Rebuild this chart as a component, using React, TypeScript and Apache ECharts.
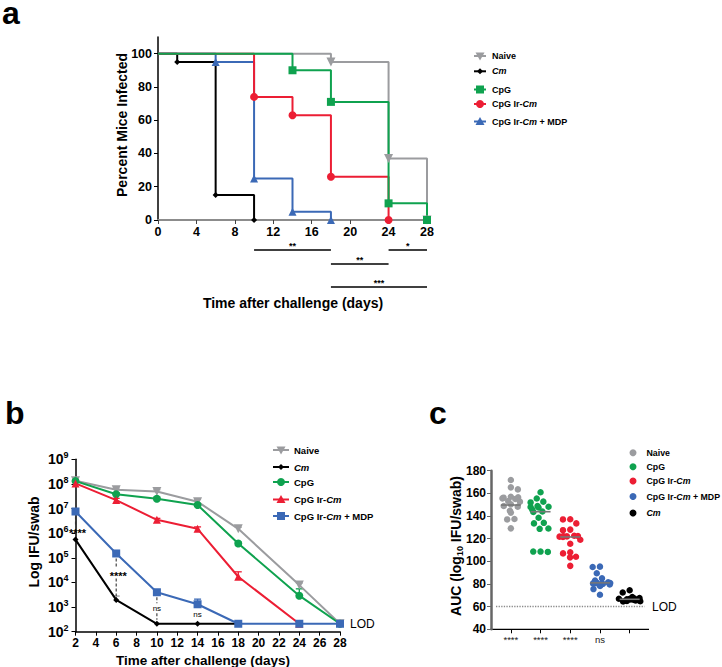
import React, { useEffect, useRef } from 'react';
import * as echarts from 'echarts';

const FONT = '"Liberation Sans", Arial, Helvetica, sans-serif';

const GREY = '#9b9c9f';
const BLACK = '#000000';
const GREEN = '#0fa24f';
const RED = '#ec1e34';
const BLUE = '#3b69b6';

// ---------- Panel a: percent mice infected ----------
const aNaiveDays = [0, 18, 24, 28];
const aNaivePct = [100, 95, 37, 0];
const aCmDays = [0, 2, 6, 10];
const aCmPct = [100, 95, 15, 0];
const aMdpDays = [0, 6, 10, 14, 18];
const aMdpPct = [100, 95, 25, 5, 0];
const aIrDays = [0, 10, 14, 18, 24];
const aIrPct = [100, 74, 63, 26, 0];
const aCpgDays = [0, 14, 18, 24, 28];
const aCpgPct = [100, 90, 71, 10, 0];
const aYTicks = [0, 20, 40, 60, 80, 100];
const aSigFrom = [10, 24, 18, 18];
const aSigTo = [18, 28, 24, 28];
const aSigRow = [0, 0, 1, 2];
const aSigLabel = ['**', '*', '**', '***'];
const aLegendNames = ['Naive', 'Cm', 'CpG', 'CpG Ir-Cm', 'CpG Ir-Cm + MDP'];

// ---------- Panel b: log IFU/swab ----------
const bDays = [2, 6, 10, 14, 18, 24, 28];
const bNaive = [1.35e8, 5.8e7, 4.9e7, 1.9e7, 1.5e6, 7.8e3, 210];
const bNaiveUp = [1.55e8, 6.8e7, 5.8e7, 2.4e7, 1.75e6, 9.5e3, null];
const bCpg = [1.3e8, 3.8e7, 2.5e7, 1.4e7, 3.8e5, 2.9e3, 210];
const bCpgUp = [1.5e8, 4.3e7, 2.9e7, 1.6e7, 4.3e5, 5.5e3, null];
const bIrDays = [2, 6, 10, 14, 18, 24];
const bIr = [1.05e8, 2.2e7, 3.5e6, 1.5e6, 1.7e4, 210];
const bIrUp = [1.2e8, 2.6e7, 4.0e6, 1.8e6, 2.7e4, null];
const bCmDays = [2, 6, 10, 14, 18];
const bCm = [5.5e5, 1.95e3, 210, 210, 210];
const bCmUp = [null, 2.8e3, null, null, null];
const bMdp = [7.6e6, 1.5e5, 4.0e3, 1.3e3, 210, 210, 210];
const bMdpUp = [null, 1.8e5, 5.0e3, 2.1e3, null, null, null];
const bSigDays = [2, 6, 10, 14];
const bSigTop = [7.6e6, 1.5e5, 4.0e3, 1.3e3];
const bSigBottom = [5.5e5, 1.95e3, 210, 210];
const bSigTextAt = [1.3e6, 2.3e4, 900, 510];
const bSigLine = [1, 1, 1, 0];
const bSigLabel = ['****', '****', 'ns', 'ns'];
const bLegendNames = ['Naive', 'Cm', 'CpG', 'CpG Ir-Cm', 'CpG Ir-Cm + MDP'];

// ---------- Panel c: AUC ----------
const cGroups = ['Naive', 'CpG', 'CpG Ir-Cm', 'CpG Ir-Cm + MDP', 'Cm'];
const cNaive = [171.8, 165.3, 163.5, 157, 156.5, 156.2, 155.6, 155, 153.2, 152.7, 150.3, 148.8, 148.2, 144.7, 143, 137.4, 137, 129.1];
const cCpg = [161, 155.5, 152.7, 152, 148.8, 148.2, 148, 147.5, 145.8, 144, 143.5, 138.5, 134, 133.5, 129, 128.7, 108.6, 108.6, 108.3];
const cIr = [137.1, 137, 133.5, 128, 127.5, 122.6, 122.4, 122.2, 122, 121.8, 121.5, 119, 115.5, 108, 107, 104, 103.5, 96];
const cMdp = [95.3, 95, 89.5, 85, 83, 81.5, 81, 80.8, 80.6, 80.5, 80.4, 80, 79.5, 78.3, 75.5, 70.5];
const cCm = [74.5, 72.5, 68.5, 67.5, 67.2, 67, 66.8, 66.5, 66.3, 66, 65.8, 65.5, 65.2, 65, 64.8, 64.5];
const cMeans = [149.7, 143.8, 121.5, 81, 66.5];
const cSig = ['****', '****', '****', 'ns', ''];
const cLOD = 60;

type Shape = 'triDown' | 'triUp' | 'diamond' | 'square' | 'circle';

function marker(shape: Shape, cx: number, cy: number, s: number, color: string): any {
  const h = s / 2;
  const style = { fill: color };
  switch (shape) {
    case 'circle':
      return { type: 'circle', shape: { cx, cy, r: h }, style };
    case 'square':
      return { type: 'rect', shape: { x: cx - h, y: cy - h, width: s, height: s }, style };
    case 'diamond':
      return { type: 'polygon', shape: { points: [[cx, cy - h], [cx + h, cy], [cx, cy + h], [cx - h, cy]] }, style };
    case 'triUp':
      return { type: 'polygon', shape: { points: [[cx, cy - h], [cx + h, cy + h * 0.8], [cx - h, cy + h * 0.8]] }, style };
    default:
      return { type: 'polygon', shape: { points: [[cx - h, cy - h * 0.8], [cx + h, cy - h * 0.8], [cx, cy + h]] }, style };
  }
}

function rich(name: string) {
  return name
    .split(/(Cm)/)
    .filter((p) => p !== '')
    .map((p) => (p === 'Cm' ? '{i|Cm}' : `{b|${p}}`))
    .join('');
}

function richStyles(fs: number, weight = 'bold') {
  return {
    b: { fontFamily: FONT, fontSize: fs, fontWeight: weight, fill: '#000', color: '#000' },
    i: { fontFamily: FONT, fontSize: fs, fontWeight: weight, fontStyle: 'italic', fill: '#000', color: '#000' },
  };
}

function legendBlock(names: string[], colors: string[], shapes: Shape[], sizes: number[], ys: number[], symX: number, textX: number, lineHalf: number, fs: number) {
  const els: any[] = [];
  names.forEach((n, i) => {
    if (lineHalf > 0) {
      els.push({ type: 'line', shape: { x1: symX - lineHalf, y1: ys[i], x2: symX + lineHalf, y2: ys[i] }, style: { stroke: colors[i], lineWidth: 2 } });
    }
    els.push(marker(shapes[i], symX, ys[i], sizes[i], colors[i]));
    els.push({
      type: 'text',
      x: textX,
      y: ys[i],
      style: { text: rich(n), rich: richStyles(fs), align: 'left', verticalAlign: 'middle', textAlign: 'left', textVerticalAlign: 'middle' },
    });
  });
  return els;
}

function txt(text: string, x: number, y: number, fs: number, opts: any = {}) {
  return {
    type: 'text',
    x,
    y,
    rotation: opts.rotation || 0,
    style: {
      text,
      fontFamily: FONT,
      fontSize: fs,
      fontWeight: opts.weight || 'bold',
      fill: '#000',
      align: opts.align || 'center',
      verticalAlign: 'middle',
      textAlign: opts.align || 'center',
      textVerticalAlign: 'middle',
      rich: opts.rich,
    },
  };
}

function stepSeries(name: string, days: number[], pct: number[], color: string, symbol: string, size: number, rotate = 0) {
  return {
    type: 'line',
    name,
    xAxisIndex: 0,
    yAxisIndex: 0,
    step: 'end',
    data: days.map((d, i) => (i === 0 ? { value: [d, pct[i]], symbol: 'none' } : [d, pct[i]])),
    symbol,
    symbolSize: size,
    symbolRotate: rotate,
    showSymbol: true,
    lineStyle: { color, width: 2 },
    itemStyle: { color },
  };
}

function lineSeries(name: string, days: number[], vals: number[], color: string, symbol: string, size: number, rotate = 0) {
  return {
    type: 'line',
    name,
    xAxisIndex: 1,
    yAxisIndex: 1,
    data: days.map((d, i) => [d, vals[i]]),
    symbol,
    symbolSize: size,
    symbolRotate: rotate,
    showSymbol: true,
    lineStyle: { color, width: 2 },
    itemStyle: { color },
    z: 3,
  };
}

function errSeries(days: number[], vals: number[], ups: (number | null)[], color: string) {
  const data: number[][] = [];
  days.forEach((d, i) => {
    const u = ups[i];
    if (u != null) data.push([d, vals[i], u]);
  });
  return {
    type: 'custom',
    xAxisIndex: 1,
    yAxisIndex: 1,
    silent: true,
    z: 2,
    data,
    renderItem: (_p: any, api: any) => {
      const p1 = api.coord([api.value(0), api.value(1)]);
      const p2 = api.coord([api.value(0), api.value(2)]);
      return {
        type: 'group',
        children: [
          { type: 'line', shape: { x1: p1[0], y1: p1[1], x2: p2[0], y2: p2[1] }, style: { stroke: color, lineWidth: 1.3 } },
          { type: 'line', shape: { x1: p2[0] - 3.5, y1: p2[1], x2: p2[0] + 3.5, y2: p2[1] }, style: { stroke: color, lineWidth: 1.3 } },
        ],
      };
    },
  };
}

const axisText = (fs: number) => ({ fontFamily: FONT, fontSize: fs, fontWeight: 'bold', color: '#000' });

function buildOption() {
  const series: any[] = [
    // Panel a
    stepSeries('Naive', aNaiveDays, aNaivePct, GREY, 'triangle', 9, 180),
    stepSeries('Cm', aCmDays, aCmPct, BLACK, 'diamond', 6),
    stepSeries('CpG Ir-Cm + MDP', aMdpDays, aMdpPct, BLUE, 'triangle', 8),
    stepSeries('CpG Ir-Cm', aIrDays, aIrPct, RED, 'circle', 8),
    stepSeries('CpG', aCpgDays, aCpgPct, GREEN, 'rect', 8),
    {
      type: 'custom',
      xAxisIndex: 0,
      yAxisIndex: 0,
      silent: true,
      clip: false,
      data: aSigFrom.map((f, i) => [f, aSigTo[i], aSigRow[i]]),
      renderItem: (params: any, api: any) => {
        const i = params.dataIndex;
        const x1 = api.coord([api.value(0), 0])[0];
        const x2 = api.coord([api.value(1), 0])[0];
        const base = api.coord([0, 0])[1];
        const y = base + [30, 44, 67][api.value(2)];
        return {
          type: 'group',
          children: [
            { type: 'line', shape: { x1, y1: y, x2, y2: y }, style: { stroke: '#000', lineWidth: 1.5 } },
            {
              type: 'text',
              style: { text: aSigLabel[i], x: (x1 + x2) / 2, y: y + 0.5, align: 'center', verticalAlign: 'bottom', fontSize: 9, fontWeight: 'bold', fill: '#000', fontFamily: FONT },
            },
          ],
        };
      },
    },
    // Panel b error bars
    errSeries(bDays, bNaive, bNaiveUp, GREY),
    errSeries(bDays, bCpg, bCpgUp, GREEN),
    errSeries(bIrDays, bIr, bIrUp, RED),
    errSeries(bCmDays, bCm, bCmUp, GREY),
    errSeries(bDays, bMdp, bMdpUp, BLUE),
    // Panel b lines
    lineSeries('Naive', bDays, bNaive, GREY, 'triangle', 9, 180),
    lineSeries('CpG', bDays, bCpg, GREEN, 'circle', 8),
    lineSeries('CpG Ir-Cm', bIrDays, bIr, RED, 'triangle', 8),
    lineSeries('Cm', bCmDays, bCm, BLACK, 'diamond', 6),
    lineSeries('CpG Ir-Cm + MDP', bDays, bMdp, BLUE, 'rect', 8),
    // Panel b significance
    {
      type: 'custom',
      xAxisIndex: 1,
      yAxisIndex: 1,
      silent: true,
      clip: false,
      z: 4,
      data: bSigDays.map((d, i) => [d, bSigTop[i], bSigBottom[i], bSigTextAt[i], bSigLine[i]]),
      renderItem: (params: any, api: any) => {
        const i = params.dataIndex;
        const d = api.value(0);
        const top = api.coord([d, api.value(1)]);
        const bot = api.coord([d, api.value(2)]);
        const tp = api.coord([d, api.value(3)]);
        const lab = bSigLabel[i];
        const stars = lab.indexOf('*') >= 0;
        const fs = stars ? 11 : 8;
        const children: any[] = [
          {
            type: 'text',
            style: {
              text: lab,
              x: tp[0] + (stars ? 2 : 0),
              y: tp[1] + (stars ? 0.23 * fs : 0),
              align: 'center',
              verticalAlign: 'middle',
              fontSize: fs,
              fontWeight: stars ? 'bold' : 'normal',
              fill: '#000',
              fontFamily: FONT,
            },
          },
        ];
        if (api.value(4)) {
          const ls = { stroke: '#333', lineWidth: 1.1, lineDash: [3, 2] };
          const y1 = top[1] + 5;
          const y2 = tp[1] - 5;
          if (y2 > y1) children.push({ type: 'line', shape: { x1: tp[0], y1, x2: tp[0], y2 }, style: ls });
          const y3 = tp[1] + 5;
          const y4 = bot[1] - 4;
          if (y4 > y3) children.push({ type: 'line', shape: { x1: tp[0], y1: y3, x2: tp[0], y2: y4 }, style: ls });
        }
        return { type: 'group', children };
      },
    },
  ];

  // Panel c scatter
  const cValues = [cNaive, cCpg, cIr, cMdp, cCm];
  const cColors = [GREY, GREEN, RED, BLUE, BLACK];
  cValues.forEach((vals, gi) => {
    const s: any = {
      type: 'scatter',
      name: cGroups[gi],
      xAxisIndex: 2,
      yAxisIndex: 2,
      data: vals.map((v) => [gi, v]),
      symbolSize: 6.5,
      itemStyle: { color: cColors[gi], opacity: 1 },
      z: 2,
    };
    if (gi === 0) {
      s.markLine = {
        silent: true,
        symbol: ['none', 'none'],
        label: { show: false },
        lineStyle: { type: 'dotted', color: '#8a8a8a', width: 1.3 },
        data: [{ yAxis: cLOD }],
      };
    }
    series.push(s);
  });
  series.push({
    type: 'custom',
    xAxisIndex: 2,
    yAxisIndex: 2,
    silent: true,
    z: 5,
    data: cMeans.map((m, i) => [i, m]),
    renderItem: (_p: any, api: any) => {
      const p = api.coord([api.value(0), api.value(1)]);
      return { type: 'line', shape: { x1: p[0] - 10, y1: p[1], x2: p[0] + 10, y2: p[1] }, style: { stroke: '#777', lineWidth: 1.6 } };
    },
  });

  const graphic: any[] = [
    // panel letters
    txt('a', 2, 13, 32, { align: 'left' }),
    txt('b', 5, 413, 32, { align: 'left' }),
    txt('c', 429, 413, 32, { align: 'left' }),
    // axis titles
    txt('Percent Mice Infected', 122, 125, 14, { rotation: Math.PI / 2 }),
    txt('Time after challenge (days)', 293, 303, 14),
    txt('Log IFU/swab', 34, 542, 14, { rotation: Math.PI / 2 }),
    txt('Time after challenge (days)', 203, 660, 13.5),
    {
      type: 'text',
      x: 456,
      y: 546,
      rotation: Math.PI / 2,
      style: {
        text: '{t|AUC (log}{sub|10}{t| IFU/swab)}',
        align: 'center',
        verticalAlign: 'middle',
        textAlign: 'center',
        textVerticalAlign: 'middle',
        rich: {
          t: { fontFamily: FONT, fontSize: 14, fontWeight: 'bold', fill: '#000', color: '#000' },
          sub: { fontFamily: FONT, fontSize: 9, fontWeight: 'bold', fill: '#000', color: '#000', padding: [7, 0, 0, 0] },
        },
      },
    },
    // LOD labels
    txt('LOD', 350, 623.5, 12, { align: 'left', weight: 'normal' }),
    txt('LOD', 652, 606.5, 12, { align: 'left', weight: 'normal' }),
    // panel c x axis line
    { type: 'line', shape: { x1: 490, y1: 629.3, x2: 649, y2: 629.3 }, style: { stroke: '#000', lineWidth: 1.3 } },
    // legends
    ...legendBlock(aLegendNames, [GREY, BLACK, GREEN, RED, BLUE], ['triDown', 'diamond', 'square', 'circle', 'triUp'], [9, 6, 8, 8, 9], [56, 71.3, 89.5, 104, 121.5], 480, 492, 6, 9),
    ...legendBlock(bLegendNames, [GREY, BLACK, GREEN, RED, BLUE], ['triDown', 'diamond', 'circle', 'triUp', 'square'], [9, 6, 8, 9, 8], [450, 467, 482, 499.5, 516], 281, 294, 8, 9.5),
    ...legendBlock(cGroups, cColors, ['circle', 'circle', 'circle', 'circle', 'circle'], [7, 7, 7, 7, 7], [452.7, 466.7, 481, 496.5, 513], 633, 646.5, 0, 8.8),
  ];

  return {
    animation: false,
    backgroundColor: '#ffffff',
    textStyle: { fontFamily: FONT },
    grid: [
      { left: 158, top: 37, width: 269, height: 183, containLabel: false, outerBoundsMode: 'none' },
      { left: 75.5, top: 459.3, width: 264.5, height: 172.4, containLabel: false, outerBoundsMode: 'none' },
      { left: 496, top: 470.7, width: 148.5, height: 158.6, containLabel: false, outerBoundsMode: 'none' },
    ],
    xAxis: [
      {
        gridIndex: 0,
        type: 'value',
        min: 0,
        max: 28,
        interval: 4,
        axisLine: { show: true, lineStyle: { color: '#8c8c8c', width: 2 } },
        axisTick: { show: true, length: 4, lineStyle: { color: '#444', width: 1 } },
        axisLabel: { ...axisText(12.5), margin: 5 },
        splitLine: { show: false },
      },
      {
        gridIndex: 1,
        type: 'value',
        min: 2,
        max: 28,
        interval: 2,
        axisLine: { show: true, onZero: false, lineStyle: { color: '#000', width: 1.5 } },
        axisTick: { show: true, length: 4, lineStyle: { color: '#000', width: 1 } },
        axisLabel: { ...axisText(12), margin: 5 },
        splitLine: { show: false },
      },
      {
        gridIndex: 2,
        type: 'category',
        data: cGroups,
        jitter: 22,
        jitterOverlap: false,
        jitterMargin: 0.8,
        axisLine: { show: false },
        axisTick: { show: true, alignWithLabel: true, length: 4, lineStyle: { color: '#000', width: 1 } },
        axisLabel: { formatter: (_v: string, i: number) => cSig[i], fontFamily: FONT, fontSize: 9.5, color: '#222', margin: 5, interval: 0 },
        splitLine: { show: false },
      },
    ],
    yAxis: [
      {
        gridIndex: 0,
        type: 'value',
        min: 0,
        max: 110,
        interval: 20,
        axisLine: { show: true, onZero: false, lineStyle: { color: '#000', width: 1.5 } },
        axisTick: { show: true, length: 4, customValues: aYTicks, lineStyle: { color: '#000' } },
        axisLabel: { ...axisText(12.5), margin: 6, customValues: aYTicks },
        splitLine: { show: false },
      },
      {
        gridIndex: 1,
        type: 'log',
        logBase: 10,
        min: 100,
        max: 1e9,
        splitNumber: 7,
        axisLine: { show: true, onZero: false, lineStyle: { color: '#000', width: 1.5 } },
        axisTick: { show: true, length: 4, lineStyle: { color: '#000' } },
        axisLabel: {
          margin: 7,
          interval: 0,
          formatter: (v: number) => `{n|10}{s|${Math.round(Math.log10(v))}}`,
          rich: {
            n: { fontFamily: FONT, fontSize: 14, fontWeight: 'bold', color: '#000' },
            s: { fontFamily: FONT, fontSize: 9, fontWeight: 'bold', color: '#000', padding: [0, 0, 8, 0] },
          },
        },
        splitLine: { show: false },
        minorTick: { show: false },
      },
      {
        gridIndex: 2,
        type: 'value',
        min: 40,
        max: 180,
        interval: 20,
        offset: 5,
        axisLine: { show: true, onZero: false, lineStyle: { color: '#666', width: 2.5 } },
        axisTick: { show: true, length: 4, lineStyle: { color: '#666' } },
        axisLabel: { ...axisText(12), margin: 5 },
        splitLine: { show: false },
      },
    ],
    series,
    graphic,
  };
}

export default function App() {
  const ref = useRef<HTMLDivElement>(null);
  useEffect(() => {
    if (!ref.current) return undefined;
    const chart = echarts.init(ref.current, null, { renderer: 'svg' });
    chart.setOption(buildOption() as any);
    return () => {
      chart.dispose();
    };
  }, []);
  return <div ref={ref} style={{ position: 'fixed', left: 0, top: 0, width: 722, height: 667, background: '#fff' }} />;
}
